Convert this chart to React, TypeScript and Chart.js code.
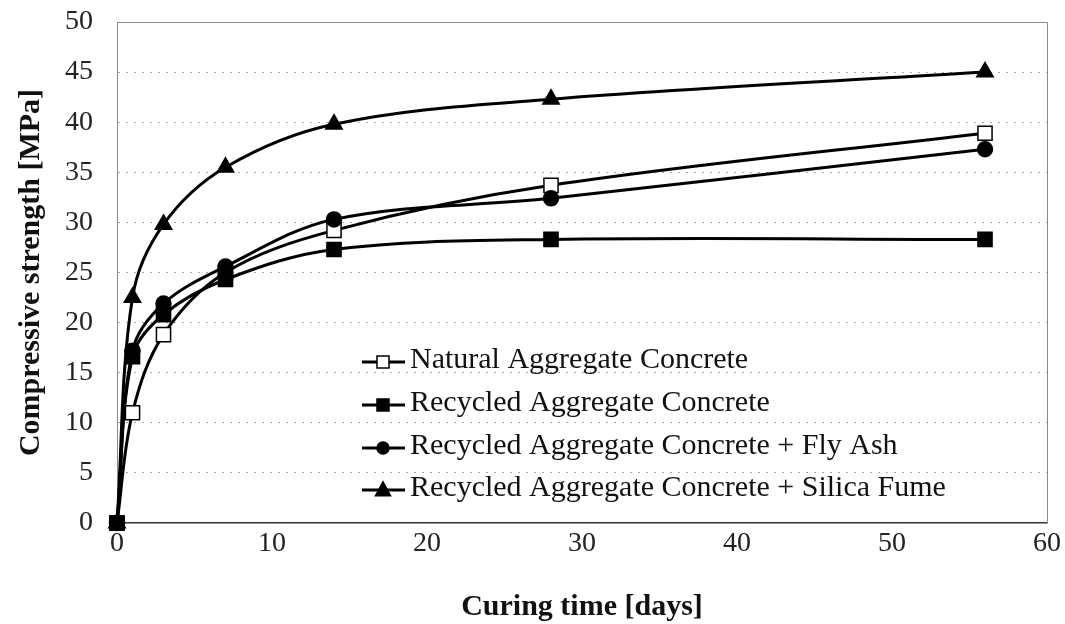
import React, { useEffect, useRef } from "react";
import { Chart, registerables } from "chart.js";

Chart.register(...registerables);

const days = [0, 1, 3, 7, 14, 28, 56];
const naturalAC = [0, 11.0, 18.8, 25.0, 29.2, 33.7, 38.9];
const recycledAC = [0, 16.6, 20.8, 24.3, 27.3, 28.3, 28.3];
const recycledFlyAsh = [0, 17.2, 21.9, 25.6, 30.3, 32.4, 37.3];
const recycledSilica = [0, 22.5, 29.8, 35.5, 39.8, 42.3, 45.0];

const seriesNames = [
  "Natural Aggregate Concrete",
  "Recycled Aggregate Concrete",
  "Recycled Aggregate Concrete + Fly Ash",
  "Recycled Aggregate Concrete + Silica Fume",
];
const xTicksMax = 60;
const yTicksMax = 50;
const xAxisTitle = "Curing time [days]";
const yAxisTitle = "Compressive strength [MPa]";

const FONT = "'Liberation Serif', 'Times New Roman', serif";

function drawMarker(ctx: CanvasRenderingContext2D, style: string, fill: string, x: number, y: number, r: number) {
  ctx.save();
  ctx.fillStyle = fill;
  ctx.strokeStyle = "#000";
  ctx.lineWidth = 1.5;
  ctx.beginPath();
  if (style === "rect") {
    ctx.rect(x - r, y - r, 2 * r, 2 * r);
  } else if (style === "circle") {
    ctx.arc(x, y, r, 0, Math.PI * 2);
  } else {
    ctx.moveTo(x, y - r * 1.1);
    ctx.lineTo(x + r, y + r * 0.75);
    ctx.lineTo(x - r, y + r * 0.75);
    ctx.closePath();
  }
  ctx.fill();
  ctx.stroke();
  ctx.restore();
}

const framePlugin = {
  id: "frame",
  beforeDatasetsDraw(chart: any) {
    const { ctx, chartArea: a } = chart;
    ctx.save();
    ctx.strokeStyle = "#8a8a8a";
    ctx.lineWidth = 1;
    ctx.beginPath();
    ctx.moveTo(a.left, a.top + 0.5);
    ctx.lineTo(a.right + 0.5, a.top + 0.5);
    ctx.lineTo(a.right + 0.5, a.bottom);
    ctx.stroke();
    ctx.restore();
  },
};

const legendPlugin = {
  id: "innerLegend",
  afterDatasetsDraw(chart: any) {
    const { ctx } = chart;
    const x0 = 362;
    const rows = [362, 405, 448, 490];
    chart.data.datasets.forEach((ds: any, i: number) => {
      const y = rows[i];
      ctx.save();
      ctx.strokeStyle = "#000";
      ctx.lineWidth = 2.8;
      ctx.beginPath();
      ctx.moveTo(x0, y);
      ctx.lineTo(x0 + 43, y);
      ctx.stroke();
      ctx.restore();
      drawMarker(ctx, ds.pointStyle, ds.pointBackgroundColor, x0 + 21, y, ds.pointStyle === "triangle" ? 7.5 : 6);
      ctx.save();
      ctx.fillStyle = "#111";
      ctx.font = `30px ${FONT}`;
      ctx.textBaseline = "middle";
      ctx.textAlign = "left";
      ctx.fillText(ds.label, x0 + 48, y - 2);
      ctx.restore();
    });
  },
};

export default function App() {
  const ref = useRef<HTMLCanvasElement | null>(null);
  useEffect(() => {
    if (!ref.current) return;
    const mk = (label: string, vals: number[], style: string, fill: string, r: number, order: number) => ({
      label,
      order,
      data: days.map((d, i) => ({ x: d, y: vals[i] })),
      borderColor: "#000",
      borderWidth: 3,
      pointStyle: style,
      pointBackgroundColor: fill,
      pointBorderColor: "#000",
      pointBorderWidth: 1.5,
      pointRadius: r,
      tension: 0.35,
      clip: false as any,
    });
    const chart = new Chart(ref.current, {
      type: "line",
      data: {
        datasets: [
          mk(seriesNames[0], naturalAC, "rect", "#fff", 10, 2),
          mk(seriesNames[1], recycledAC, "rect", "#000", 10, 0),
          mk(seriesNames[2], recycledFlyAsh, "circle", "#000", 7.5, 1),
          mk(seriesNames[3], recycledSilica, "triangle", "#000", 9.5, 3),
        ],
      },
      options: {
        animation: false,
        responsive: false,
        layout: { padding: { top: 22, right: 18, left: 0, bottom: 0 } },
        plugins: { legend: { display: false }, tooltip: { enabled: false } },
        scales: {
          x: {
            type: "linear",
            min: 0,
            max: xTicksMax,
            ticks: { stepSize: 10, color: "#222", font: { family: FONT, size: 28 }, padding: 4 },
            grid: { display: false, drawTicks: false },
            border: { color: "#333", width: 1.5 },
            title: { display: true, text: xAxisTitle, color: "#111", font: { family: FONT, size: 30, weight: "bold" }, padding: { top: 0, bottom: -1 } },
            afterFit(scale: any) {
              scale.height = 101;
              scale.paddingLeft = 0;
              scale.paddingRight = 0;
            },
          },
          y: {
            min: 0,
            max: yTicksMax,
            ticks: { stepSize: 5, color: "#222", font: { family: FONT, size: 28 }, padding: 24 },
            grid: {
              color: (c: any) => (c.tick && (c.tick.value === 0 || c.tick.value === yTicksMax) ? "rgba(0,0,0,0)" : "#a8a8a8"),
              drawTicks: false,
              lineWidth: 1,
            },
            border: { color: "#8a8a8a", width: 1, dash: [2, 6] },
            title: { display: true, text: yAxisTitle, color: "#111", font: { family: FONT, size: 30, weight: "bold" }, padding: { top: 13, bottom: 0 } },
            afterFit(scale: any) {
              scale.width = 117;
              scale.paddingTop = 0;
              scale.paddingBottom = 0;
            },
          },
        },
      } as any,
      plugins: [framePlugin, legendPlugin],
    });
    return () => chart.destroy();
  }, []);
  return (
    <div style={{ position: "fixed", left: 0, top: 0, width: 1065, height: 624, background: "#fff" }}>
      <canvas ref={ref} width={1065} height={624} style={{ width: 1065, height: 624 }} />
    </div>
  );
}
